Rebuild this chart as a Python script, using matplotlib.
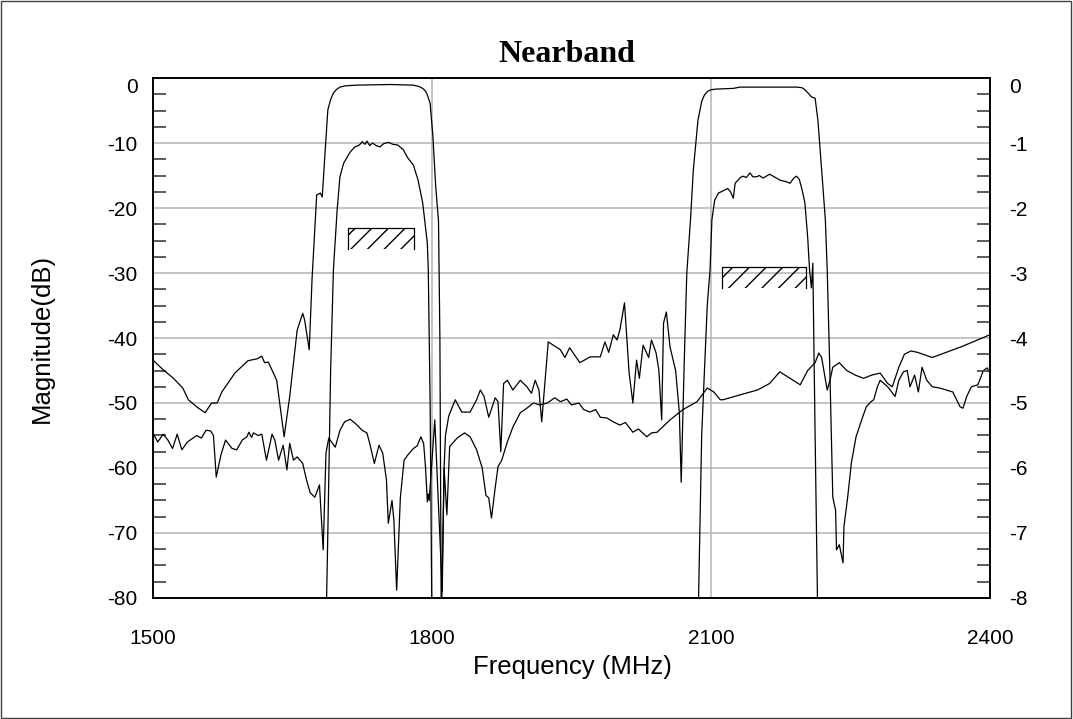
import numpy as np
import matplotlib
matplotlib.use("Agg")
import matplotlib.pyplot as plt
from matplotlib.patches import Rectangle
from matplotlib.transforms import ScaledTranslation

plt.rcParams["font.family"] = ["Liberation Sans", "DejaVu Sans"]
plt.rcParams["axes.unicode_minus"] = False

# ---------- DATA (MHz, dB) ----------
# DCS path, wide scale (left axis)
t1_f = [1500, 1511, 1522, 1532, 1538, 1547, 1556, 1563, 1569, 1574, 1588, 1602, 1612, 1617,
        1620, 1624, 1633, 1641, 1647, 1655, 1661, 1663, 1668, 1671, 1676, 1680, 1682, 1685,
        1688, 1691, 1694, 1697, 1701, 1707, 1719, 1755, 1780, 1786, 1790, 1793, 1795, 1798,
        1801, 1804, 1807, 1808.5, 1810,
        1813, 1816, 1819, 1827, 1835, 1841, 1848, 1854, 1858, 1861, 1864, 1868, 1871, 1875,
        1881, 1887, 1895, 1902, 1909, 1916, 1924, 1932, 1938, 1945, 1950, 1958, 1963, 1970,
        1976, 1981, 1988, 1995, 2002, 2008, 2016, 2022, 2031, 2036, 2042, 2056, 2070, 2085,
        2096, 2103, 2110, 2113, 2130, 2150, 2163, 2174, 2185, 2196, 2204, 2212, 2216, 2219,
        2225, 2228, 2231, 2238, 2246, 2255, 2264, 2273, 2282, 2290, 2295, 2302, 2308, 2315,
        2322, 2330, 2338, 2370, 2400]
t1_db = [-43.4, -44.9, -46.2, -47.7, -49.5, -50.6, -51.5, -50, -50, -48.3, -45.4, -43.5, -43.2,
         -42.8, -43.8, -43.7, -46.5, -55.2, -49, -38.8, -36.2, -37.2, -41.8, -31, -18, -17.7,
         -18.3, -11.5, -4.9, -3.3, -2.3, -1.8, -1.4, -1.2, -1.1, -1.0, -1.1, -1.3, -1.6, -2.0,
         -2.6, -3.9, -9, -16.7, -22,
         -40, -85, -60, -67.2, -56.7, -55.4, -54.6, -55.2, -57.2, -60, -64.2, -64.6, -67.7,
         -63, -59.8, -58.8, -56, -53.7, -51.5, -50.8, -50, -50.3, -50, -49.2, -49.8, -49.4,
         -50.3, -50.0, -51.0, -51.4, -51.0, -52.2, -52.3, -52.9, -53.4, -53.0, -54.5, -54.0,
         -55.2, -54.6, -54.5, -52.6, -51, -49.8, -47.7, -48.3, -49.5, -49.5, -48.8, -48, -47,
         -45.2, -46.2, -47.2, -45, -43.8, -42.3, -43, -48, -46.5, -44.5, -43.8, -45, -45.7,
         -46.2, -45.7, -45.4, -47, -47.5, -44.5, -42.5, -42, -42.2, -42.6, -43, -41.3, -39.5]

# DCS path, zoomed scale (right axis x10)
t2_f = [1686, 1688, 1691, 1694, 1698, 1701, 1705, 1712, 1717, 1722, 1725, 1728, 1730, 1733,
        1736, 1740, 1744, 1748, 1753, 1758, 1763, 1769, 1774, 1780, 1785, 1790, 1795, 1796,
        1798, 1800]
t2_db = [-85, -70, -45, -29.5, -20.3, -15.2, -13.1, -11.4, -10.6, -10.3, -9.8, -10.2, -9.7,
         -10.4, -10.0, -10.4, -10.6, -10.1, -9.9, -10.2, -10.3, -11, -12.3, -13.4, -15.7,
         -19.2, -25.4, -29.5, -50, -85]

# UMTS path, wide scale (left axis)
t3_f = [1500, 1505, 1511, 1516, 1521, 1526, 1531, 1537, 1547, 1552, 1557, 1562, 1565, 1568,
        1573, 1578, 1585, 1590, 1596, 1601, 1603, 1606, 1608, 1613, 1617, 1622, 1628, 1631,
        1635, 1640, 1644, 1647, 1651, 1655, 1658, 1661, 1665, 1669, 1674, 1679, 1683, 1686,
        1689, 1692, 1696, 1701, 1706, 1712, 1718, 1725, 1730, 1733, 1738, 1743, 1747, 1751,
        1753, 1757, 1759, 1762, 1766, 1770, 1774, 1780, 1784, 1788, 1791, 1793, 1795, 1796,
        1797, 1803, 1811, 1813, 1814.5, 1818, 1825, 1832, 1841, 1848, 1852, 1856, 1861, 1868,
        1871, 1874, 1877, 1881, 1887, 1895, 1902, 1907, 1911, 1915, 1918, 1925, 1938, 1943,
        1948, 1959, 1970, 1981, 1986, 1990, 1995, 1999, 2002, 2007, 2012, 2016, 2020, 2023,
        2027, 2033, 2036, 2041, 2044, 2047, 2049, 2052, 2056, 2062, 2066, 2068, 2071, 2074,
        2078, 2081, 2086, 2090, 2093, 2096, 2100, 2106, 2124, 2131, 2160, 2192, 2198, 2201,
        2205, 2208, 2212, 2215,
        2219, 2223, 2225, 2228, 2231, 2234, 2235, 2238, 2242, 2243, 2247, 2251, 2256, 2263,
        2267, 2272, 2275, 2279, 2282, 2290, 2298, 2302, 2307, 2311, 2314, 2319, 2323, 2327,
        2332, 2338, 2346, 2360, 2368, 2371, 2375, 2380, 2387, 2393, 2397, 2400]
t3_db = [-54.6, -56, -54.8, -55.7, -57, -54.8, -57.2, -56, -55, -55.4, -54.2, -54.3, -55,
         -61.4, -58, -55.7, -57, -57.2, -55.7, -55.2, -54.5, -55.3, -54.6, -55, -54.8, -58.8,
         -54.8, -55.7, -58.8, -56.5, -60.3, -56.2, -58.8, -58.3, -58.8, -59.3, -61.8, -63.8,
         -64.5, -62.6, -72.6, -57.7, -55.4, -56, -56.8, -54.2, -52.9, -52.5, -53.2, -54.2,
         -54.6, -56.2, -59.3, -56.5, -57.7, -61.8, -68.5, -65, -68, -78.8, -64.5, -58.8, -58,
         -57, -56.6, -55.2, -56.2, -59.8, -65.2, -64, -65, -52.6, -79, -60, -55, -52, -49.5,
         -51.4, -51.4, -49.5, -48, -49, -52.2, -49.2, -49.8, -57.5, -47, -46.5, -48, -46.5,
         -47.5, -48.5, -46.5, -48, -52.9, -40.6, -41.8, -43, -41.5, -43.8, -42.9, -42.9, -40.6,
         -42.2, -39.5, -40.3, -38.8, -34.6, -45.4, -50, -43.4, -46.2, -41.1, -43, -40.3,
         -42.3, -45, -52.6, -37.7, -36, -41.4, -45, -51.5, -62.2, -45, -30, -21.8, -14.2,
         -6.5, -3.6, -2.6, -2.1, -1.8, -1.7, -1.6, -1.4, -1.4, -1.4, -1.5, -1.8, -2.4,
         -2.9, -3.1, -6.5, -14.2, -21.8,
         -29.5, -46, -64.5, -66.5, -72.6, -71.8, -74.6, -69, -64.5, -59.2, -55.2, -52.2,
         -50.6, -49.8, -49.5, -47.5, -46.5, -47.5, -49, -46.5, -45.2, -45, -47.5, -45.7,
         -48.3, -44.5, -46.5, -47.5, -47.7, -48.3, -50.6, -50.8, -49, -47.5, -47.2, -45,
         -44.6, -45.4]

# UMTS path, zoomed scale (right axis x10)
t4_f = [2086, 2090, 2096, 2099, 2101, 2104, 2108, 2111, 2115, 2118, 2121, 2124, 2126, 2131,
        2134, 2138, 2142, 2145, 2149, 2152, 2156, 2163, 2168, 2174, 2182, 2185, 2189, 2192,
        2195, 2198, 2201, 2204, 2206, 2208, 2209.5, 2212, 2215]
t4_db = [-85, -55, -35, -29.5, -21.8, -18.8, -17.7, -17.5, -17.2, -17, -17.5, -18.5, -16.2,
         -15.4, -15.1, -15.3, -14.6, -15.2, -15.2, -15.0, -15.4, -14.8, -15.2, -15.7, -16,
         -16.2, -15.4, -15.1, -15.6, -17.2, -19.2, -24.5, -29.5, -32.3, -28.5, -55, -85]

# spec masks (freq start, freq end, top dB, bottom dB)
masks = [(1710, 1781, -23.1, -26.3), (2112, 2202, -29.1, -32.3)]

x_ticks = [1500, 1800, 2100, 2400]

# ---------- PLOT ----------
fig = plt.figure(figsize=(10.73, 7.19), dpi=100)
ax = fig.add_axes([0.1426, 0.1683, 0.78, 0.7232])

for f, d in [(t1_f, t1_db), (t2_f, t2_db), (t3_f, t3_db), (t4_f, t4_db)]:
    ax.plot(f, d, color="black", linewidth=0.9, zorder=3)

for f0, f1, top, bot in masks:
    ax.fill_between([f0, f1], [top, top], [bot, bot], facecolor="none",
                    edgecolor="black", hatch="//", linewidth=0, zorder=2)
    ax.plot([f0, f0, f1, f1], [bot, top, top, bot], color="black", linewidth=0.9, zorder=2)

ax.set_xlim(1500, 2400)
ax.set_ylim(-80, 0)
ax.set_xticks(x_ticks)
ax.set_yticks(np.arange(-80, 1, 10))
ax.set_yticks(np.arange(-80, 0.1, 2.5), minor=True)
ax.grid(True, which="major", color="#b4b4b4", linewidth=1.1, zorder=1)
ax.tick_params(axis="both", which="major", length=0, labelsize=15, pad=11)
ax.tick_params(axis="x", which="major", pad=22)
ax.tick_params(axis="y", which="minor", direction="in", length=9.5, width=1.2,
               color="#404040", left=True)
for s in ax.spines.values():
    s.set_linewidth(1.2)

ax2 = ax.twinx()
ax2.set_ylim(-8, 0)
ax2.set_yticks(np.arange(-8, 1, 1))
ax2.set_yticks(np.arange(-8, 0.01, 0.25), minor=True)
ax2.tick_params(axis="y", which="major", length=0, labelsize=15, pad=14)
ax2.tick_params(axis="y", which="minor", direction="in", length=9.5, width=1.2,
                color="#404040")
for s in ax2.spines.values():
    s.set_linewidth(1.2)

# the "0" labels sit a little below the top spine in the original
shift = ScaledTranslation(0, -7 / 100, fig.dpi_scale_trans)
for lab in (ax.get_yticklabels()[-1], ax2.get_yticklabels()[-1]):
    lab.set_transform(lab.get_transform() + shift)

# labels and title placed in figure pixels of the original
fig.text(572 / 1073, 1 - 667 / 719, "Frequency (MHz)", fontsize=18.5,
         ha="center", va="center")
fig.text(42 / 1073, 1 - 338 / 719, "Magnitude(dB)", fontsize=18.5, rotation=90,
         ha="center", va="center")
fig.text(567 / 1073, 1 - 54 / 719, "Nearband", fontsize=23, fontweight="bold",
         family=["Liberation Serif", "DejaVu Serif"], ha="center", va="center")

fig.patches.append(Rectangle((0.001, 0.001), 0.997, 0.997, transform=fig.transFigure,
                             fill=False, edgecolor="#404040", linewidth=1))

fig.savefig("out.png", dpi=100)
